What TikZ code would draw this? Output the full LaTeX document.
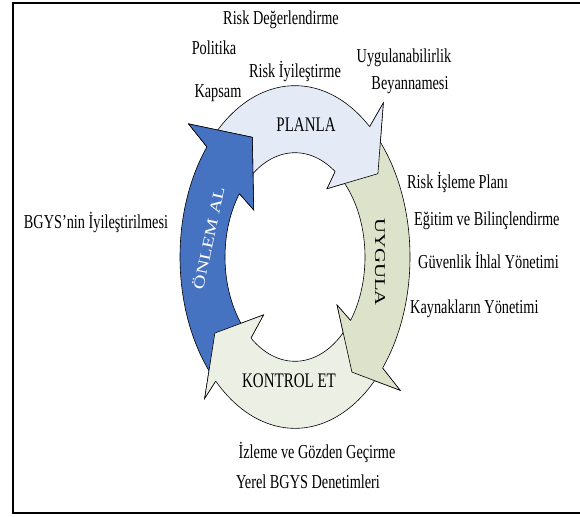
\documentclass[tikz,border=0pt]{standalone}
\usepackage{fontspec}
\setmainfont{Liberation Serif}

% text is set tall and narrow throughout
\newcommand\tallbox[1]{\scalebox{1}[1.38]{#1}}

% ring geometry (radii in pt, the ring is stretched vertically in its scope)
\def\ringout{115}
\def\ringin{70}

% one arrow of the cycle:
% #1 style, #2 tail angle, #3 outer head base angle, #4 inner head base angle,
% #5 tip angle, #6 tip radius, #7 outer barb radius, #8 inner barb radius
\newcommand\cyclearrow[8]{%
  \path[#1] (#2:\ringout) arc[start angle=#2, end angle=#3, radius=\ringout]
    -- (#3:#7) -- (#5:#6) -- (#4:#8) -- (#4:\ringin)
    arc[start angle=#4, end angle=#2, radius=\ringin] -- cycle;}
% the head alone, laid over the tail of the following arrow
\newcommand\cyclehead[8]{%
  \fill[#1] (#3:\ringout) -- (#3:#7) -- (#5:#6) -- (#4:#8) -- (#4:\ringin) -- cycle;
  \draw[ringline] (#3:\ringout) -- (#3:#7) -- (#5:#6) -- (#4:#8) -- (#4:\ringin);}

\definecolor{planfill}{RGB}{228,235,247}
\definecolor{doFill}{RGB}{221,226,203}
\definecolor{checkfill}{RGB}{236,239,228}
\definecolor{actfill}{RGB}{70,115,193}

\tikzset{
  ringline/.style={draw=black, line width=0.6pt, line join=miter},
  note/.style={inner sep=0pt, font=\fontsize{14.3}{17}\selectfont},
  stage/.style={inner sep=0pt, font=\fontsize{15}{17}\selectfont},
}

\begin{document}
\begin{tikzpicture}[x=1pt, y=-1pt]
\useasboundingbox (0,0) rectangle (580,516);
\clip (0,0) rectangle (580,516);

% frame
\draw[line width=2pt] (600,3) -- (13,3) -- (13,513) -- (600,513);

% the four cycle arrows
\begin{scope}[shift={(295,257)}, x=1pt, y=1pt, yscale=1.49]
  \cyclearrow{ringline, fill=planfill}{139}{49.5}{55}{34}{100}{136}{56}
  \cyclearrow{ringline, fill=doFill}{48.5}{-40.4}{-37.5}{-53.6}{96}{138}{53}
  \cyclearrow{ringline, fill=checkfill}{-41.4}{-133.6}{-129}{-147.5}{95}{131}{50}
  \cyclearrow{ringline, fill=actfill}{225.4}{140}{142.6}{118}{91}{139}{52}
  % every head lies over the tail of the next arrow
  \cyclehead{planfill}{139}{49.5}{55}{34}{100}{136}{56}
  \cyclehead{doFill}{48.5}{-40.4}{-37.5}{-53.6}{96}{138}{53}
  \cyclehead{checkfill}{-41.4}{-133.6}{-129}{-147.5}{95}{131}{50}
  \cyclehead{actfill}{225.4}{140}{142.6}{118}{91}{139}{52}
\end{scope}

% stage labels
\node[stage] (plan) at (306,125) {\tallbox{PLANLA}};
\node[stage, rotate=-90] (do) at (380,262) {\scalebox{1.38}[1]{UYGULA}};
\node[stage] (check) at (289,381) {\tallbox{KONTROL ET}};
\node[stage, text=white, rotate=78] (act) at (208,238) {\scalebox{1.35}[1.02]{ÖNLEM AL}};

% notes around the cycle
\node[note] (n1) at (281,20) {\tallbox{Risk Değerlendirme}};
\node[note] (n2) at (214,48) {\tallbox{Politika}};
\node[note] (n3) at (404,58) {\tallbox{Uygulanabilirlik}};
\node[note] (n4) at (410,85) {\tallbox{Beyannamesi}};
\node[note] (n5) at (295,71) {\tallbox{Risk İyileştirme}};
\node[note] (n6) at (218,93) {\tallbox{Kapsam}};

\node[note, anchor=west] (n7) at (407,182) {\tallbox{Risk İşleme Planı}};
\node[note, anchor=west] (n8) at (414,221) {\tallbox{Eğitim ve Bilinçlendirme}};
\node[note, anchor=west] (n9) at (418,260) {\tallbox{Güvenlik İhlal Yönetimi}};
\node[note, anchor=west] (n10) at (410,309) {\tallbox{Kaynakların Yönetimi}};

\node[note] (n11) at (96,222) {\tallbox{BGYS’nin İyileştirilmesi}};

\node[note] (n12) at (317,452) {\tallbox{İzleme ve Gözden Geçirme}};
\node[note] (n13) at (308,482) {\tallbox{Yerel BGYS Denetimleri}};
\end{tikzpicture}
\end{document}
